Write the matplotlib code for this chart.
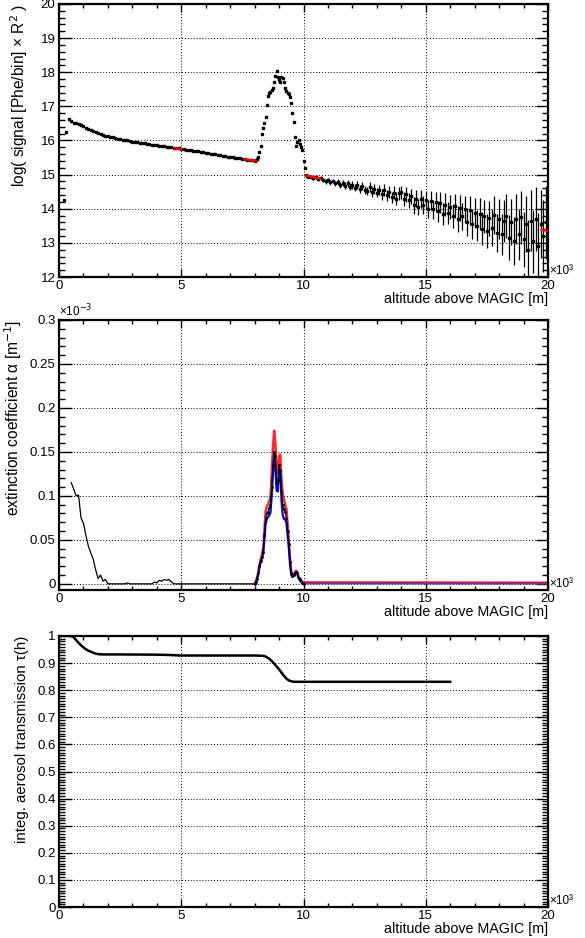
import numpy as np
import matplotlib
matplotlib.use("Agg")
import matplotlib.pyplot as plt
from matplotlib.ticker import MultipleLocator

plt.rcParams['font.family'] = ['Liberation Sans', 'DejaVu Sans']

# ---- panel 1: range corrected signal (x in km) ----
sig_x_low = np.round(np.arange(0.2, 8.01, 0.1), 2)
sig_y_low = [14.25, 16.25, 16.62, 16.58, 16.52, 16.50, 16.48, 16.45, 16.42, 16.38,
             16.35, 16.32, 16.29, 16.26, 16.23, 16.20, 16.17, 16.14, 16.12, 16.10,
             16.09, 16.07, 16.05, 16.04, 16.02, 16.01, 16.00, 15.99, 15.97, 15.96,
             15.95, 15.94, 15.93, 15.92, 15.90, 15.89, 15.88, 15.87, 15.86, 15.85,
             15.84, 15.83, 15.82, 15.81, 15.80, 15.79, 15.78, 15.77, 15.75, 15.74,
             15.73, 15.72, 15.71, 15.70, 15.69, 15.68, 15.66, 15.65, 15.64, 15.62,
             15.61, 15.60, 15.59, 15.58, 15.57, 15.55, 15.54, 15.53, 15.52, 15.51,
             15.50, 15.49, 15.48, 15.47, 15.46, 15.44, 15.43, 15.42, 15.41]

sig_x_peak = np.round(np.arange(8.05, 10.21, 0.05), 2)
sig_y_peak = [15.42, 15.45, 15.52, 15.65, 15.85, 16.18, 16.38, 16.50, 16.70, 17.05,
              17.30, 17.38, 17.43, 17.48, 17.55, 17.72, 17.90, 18.04, 17.85, 17.77,
              17.70, 17.87, 17.84, 17.70, 17.55, 17.45, 17.40, 17.35, 17.28, 17.10,
              16.80, 16.55, 16.10, 15.85, 15.95, 16.00, 15.90, 15.80, 15.72, 15.40,
              15.18, 15.00, 14.96, 14.94]

sig_x_high = np.round(np.arange(10.3, 20.01, 0.1), 2)
sig_y_high = [14.93, 14.90, 14.92, 14.86, 14.89, 14.84, 14.80, 14.85,
              14.78, 14.81, 14.74, 14.79, 14.70, 14.76, 14.68, 14.74, 14.64, 14.70,
              14.62, 14.69, 14.57, 14.66, 14.55, 14.52, 14.63, 14.49, 14.58, 14.47,
              14.56, 14.42, 14.55, 14.40, 14.50, 14.33, 14.47, 14.30, 14.45, 14.48,
              14.28, 14.42, 14.25, 14.36, 14.10, 14.30, 14.05, 14.28, 14.12, 14.25,
              14.00, 14.24, 13.98, 14.20, 13.92, 14.18, 13.85, 14.12, 13.88, 14.05,
              13.80, 14.08, 13.70, 14.02, 13.78, 13.98, 13.60, 13.95, 13.55, 13.88,
              13.50, 13.85, 13.42, 13.78, 13.35, 13.72, 13.45, 13.82, 13.30, 13.70,
              13.25, 13.65, 13.78, 13.15, 13.62, 13.05, 13.70, 13.25, 13.75, 13.10,
              13.55, 12.80, 13.65, 13.05, 13.70, 12.90, 13.55, 13.20, 13.60, 13.35]
sig_e_high = [0.04, 0.05, 0.05, 0.05, 0.06, 0.06, 0.07, 0.06,
              0.07, 0.07, 0.08, 0.08, 0.09, 0.09, 0.10, 0.09, 0.10, 0.11,
              0.11, 0.12, 0.12, 0.11, 0.13, 0.13, 0.14, 0.14, 0.15, 0.14,
              0.15, 0.16, 0.17, 0.16, 0.18, 0.17, 0.19, 0.19, 0.20, 0.20,
              0.21, 0.22, 0.22, 0.23, 0.24, 0.25, 0.24, 0.26, 0.26, 0.27,
              0.27, 0.28, 0.29, 0.30, 0.30, 0.31, 0.32, 0.33, 0.33, 0.34,
              0.35, 0.36, 0.37, 0.38, 0.39, 0.40, 0.41, 0.42, 0.43, 0.44,
              0.45, 0.46, 0.48, 0.49, 0.50, 0.52, 0.53, 0.55, 0.56, 0.58,
              0.60, 0.62, 0.64, 0.66, 0.68, 0.70, 0.73, 0.75, 0.78, 0.80,
              0.83, 0.86, 0.89, 0.92, 0.95, 0.98, 1.00, 1.05, 1.08, 1.10]

# fitted segments (red)
fit_x = [(4.75, 5.0), (7.6, 8.05), (10.12, 10.7), (19.75, 20.0)]
fit_y = [(15.77, 15.74), (15.45, 15.40), (14.97, 14.88), (13.38, 13.36)]

# ---- panel 2: extinction coefficient (units 1e-3 / m) ----
ext_x_low = np.round(np.arange(0.5, 8.01, 0.1), 2)
ext_low = [0.115, 0.108, 0.100, 0.101, 0.075, 0.069, 0.055, 0.043, 0.035, 0.028,
           0.016, 0.006, 0.010, 0.003, 0.005, 0.000, 0.000, 0.000, 0.000, 0.000,
           0.000, 0.000, 0.000, 0.001, 0.000, 0.000, 0.000, 0.000, 0.000, 0.000,
           0.000, 0.000, 0.000, 0.000, 0.002, 0.001, 0.004, 0.003, 0.005, 0.004,
           0.005, 0.002, 0.000, 0.000, 0.000, 0.000, 0.000, 0.000, 0.000, 0.000,
           0.000, 0.000, 0.000, 0.000, 0.000, 0.000, 0.000, 0.000, 0.000, 0.000,
           0.000, 0.000, 0.000, 0.000, 0.000, 0.000, 0.000, 0.000, 0.000, 0.000,
           0.000, 0.000, 0.000, 0.000, 0.000, 0.000]

ext_x_peak = np.round(np.arange(8.0, 10.01, 0.05), 2)
ext_mid = [0.000, 0.002, 0.006, 0.012, 0.020, 0.026, 0.030, 0.036, 0.055, 0.075,
           0.080, 0.082, 0.086, 0.090, 0.110, 0.135, 0.150, 0.145, 0.115, 0.118,
           0.135, 0.128, 0.105, 0.090, 0.085, 0.082, 0.075, 0.060, 0.045, 0.025,
           0.012, 0.009, 0.010, 0.012, 0.014, 0.012, 0.007, 0.005, 0.003, 0.001,
           0.000]
ext_up = [0.000, 0.003, 0.007, 0.013, 0.022, 0.028, 0.033, 0.040, 0.060, 0.082,
          0.088, 0.090, 0.094, 0.098, 0.125, 0.155, 0.174, 0.160, 0.128, 0.126,
          0.145, 0.147, 0.118, 0.102, 0.096, 0.090, 0.085, 0.068, 0.050, 0.028,
          0.014, 0.010, 0.011, 0.013, 0.015, 0.013, 0.008, 0.006, 0.004, 0.002,
          0.001]
ext_lo = [0.000, 0.002, 0.005, 0.011, 0.019, 0.025, 0.029, 0.034, 0.050, 0.068,
          0.074, 0.076, 0.078, 0.081, 0.100, 0.125, 0.148, 0.132, 0.106, 0.105,
          0.128, 0.130, 0.095, 0.078, 0.074, 0.073, 0.070, 0.055, 0.041, 0.022,
          0.010, 0.008, 0.009, 0.011, 0.013, 0.011, 0.006, 0.004, 0.002, 0.001,
          0.000]
ext_tail_x = [10.0, 20.0]
ext_tail_up = [0.0015, 0.0012]
ext_tail_lo = [0.0006, 0.0004]

# ---- panel 3: integrated aerosol transmission ----
tau_x = [0.5, 0.6, 0.7, 0.8, 0.9, 1.0, 1.1, 1.2, 1.3, 1.4, 1.5, 1.6, 1.8, 2.5,
         4.0, 4.5, 5.0, 6.0, 8.0, 8.3, 8.4, 8.5, 8.6, 8.7, 8.8, 8.9, 9.0, 9.1,
         9.2, 9.3, 9.4, 9.5, 9.6, 10.0, 16.0]
tau_y = [1.0, 0.995, 0.985, 0.975, 0.966, 0.958, 0.951, 0.946, 0.942, 0.938,
         0.935, 0.933, 0.932, 0.932, 0.931, 0.930, 0.928, 0.928, 0.928, 0.927,
         0.926, 0.922, 0.916, 0.908, 0.898, 0.888, 0.877, 0.865, 0.853, 0.843,
         0.836, 0.833, 0.831, 0.831, 0.831]

fig = plt.figure(figsize=(5.85, 9.38), dpi=100)
W, H = 585.0, 938.0


def make_axes(top, bottom):
    return fig.add_axes([59 / W, 1 - bottom / H, (548 - 59) / W, (bottom - top) / H])


def style(ax, ymajor, yminor):
    for s in ax.spines.values():
        s.set_linewidth(1.6)
    ax.set_xlim(0, 20)
    ax.xaxis.set_major_locator(MultipleLocator(5))
    ax.xaxis.set_minor_locator(MultipleLocator(1))
    ax.yaxis.set_major_locator(MultipleLocator(ymajor))
    ax.yaxis.set_minor_locator(MultipleLocator(yminor))
    ax.tick_params(which='both', direction='in', top=True, right=True,
                   labelsize=9.5, pad=2.5)
    ax.tick_params(axis='x', which='major', length=6, width=1)
    ax.tick_params(axis='x', which='minor', length=3, width=1)
    ax.tick_params(axis='y', which='major', length=9, width=1)
    ax.tick_params(axis='y', which='minor', length=4.5, width=1)
    ax.grid(True, which='major', color='black', ls=(0, (1, 2)), lw=0.7)
    ax.set_axisbelow(True)
    ax.set_xlabel('altitude above MAGIC [m]', loc='right', fontsize=10.3, labelpad=0)
    ax.xaxis.set_major_formatter(lambda v, p: '%d' % v)
    ax.text(1.003, 0.0, '×10³', transform=ax.transAxes, ha='left', va='bottom',
            fontsize=8.5)


# panel 1
ax1 = make_axes(4, 277)
style(ax1, 1, 0.2)
ax1.set_ylim(12, 20)
for xs, ys, es in [(sig_x_low, sig_y_low, 0.01), (sig_x_peak, sig_y_peak, 0.01),
                   (sig_x_high, sig_y_high, sig_e_high)]:
    ax1.errorbar(xs, ys, yerr=es, fmt='s', color='black', ms=1.8,
                 elinewidth=0.9, capsize=0)
for fx, fy in zip(fit_x, fit_y):
    ax1.plot(fx, fy, color='red', lw=1.8, zorder=5)
ax1.set_ylabel('log( signal [Phe/bin] × R$^{2}$ )', loc='top', fontsize=11.2, labelpad=8)
ax1.yaxis.set_major_formatter(lambda v, p: '%d' % v)

# panel 2
ax2 = make_axes(320, 590)
style(ax2, 0.05, 0.01)
ax2.set_ylim(-0.007, 0.3)
ax2.plot(ext_x_low, ext_low, color='black', lw=0.9)
ax2.plot(ext_tail_x, ext_tail_up, color='red', lw=1.8)
ax2.plot(ext_tail_x, ext_tail_lo, color='#7030a0', lw=1.5)
ax2.plot(ext_x_peak, ext_up, color='red', lw=1.8, alpha=0.85)
ax2.plot(ext_x_peak, ext_lo, color='blue', lw=1.6)
ax2.plot(ext_x_peak, ext_mid, color='black', lw=0.8, marker='.', ms=2)
ax2.set_ylabel('extinction coefficient α [m$^{-1}$]', loc='top', fontsize=11.2, labelpad=4)
ax2.yaxis.set_major_formatter(lambda v, p: '%g' % round(v, 3))
ax2.text(0.0, 1.003, '×10$^{-3}$', transform=ax2.transAxes, ha='left', va='bottom',
         fontsize=8.5)

# panel 3
ax3 = make_axes(636, 907)
style(ax3, 0.1, 0.01)
ax3.set_ylim(0, 1)
ax3.plot(tau_x, tau_y, color='black', lw=1.8)
ax3.set_ylabel('integ. aerosol transmission τ(h)', loc='top', fontsize=10.8, labelpad=6)
ax3.yaxis.set_major_formatter(lambda v, p: '%g' % round(v, 2))

fig.savefig('out.png', dpi=100)
